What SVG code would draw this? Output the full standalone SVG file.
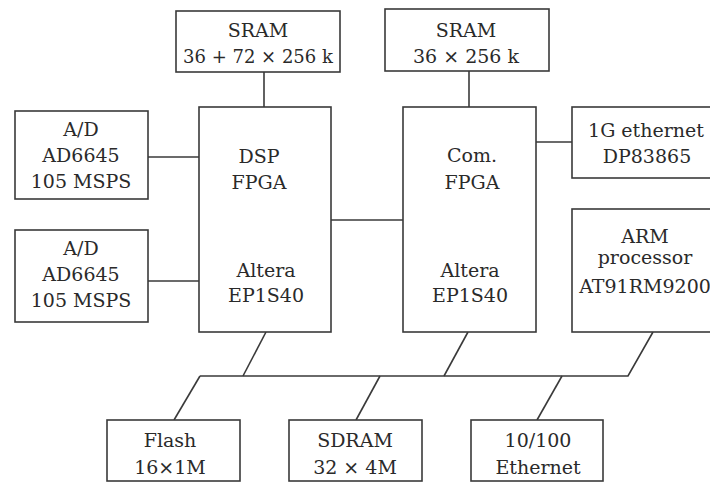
<svg xmlns="http://www.w3.org/2000/svg" width="710" height="482" viewBox="0 0 710 482">
<style>
.box{fill:#fff;stroke:#3a3a3a;stroke-width:1.6}
.ln{fill:none;stroke:#3a3a3a;stroke-width:1.6}
.t{font-size:19px;fill:#2a2a2a;text-anchor:middle}
</style>
<rect width="710" height="482" fill="#fff"/>
<g id="connectors">
<path class="ln" d="M264 72V107"/>
<path class="ln" d="M469 71V107"/>
<path class="ln" d="M148 157H199"/>
<path class="ln" d="M148 281H199"/>
<path class="ln" d="M331 220H403"/>
<path class="ln" d="M536 142H572"/>
<path class="ln" d="M200 376H628L653 332"/>
<path class="ln" d="M266 332L243 376"/>
<path class="ln" d="M468 332L444 376"/>
<path class="ln" d="M200 376L174 420"/>
<path class="ln" d="M380 376L356 420"/>
<path class="ln" d="M562 376L537 420"/>
</g>
<g class="t" font-family="DejaVu Serif, serif">
<g id="sram1"><rect class="box" x="176" y="11" width="164" height="61"/><text x="258" y="37">SRAM</text><text x="258" y="63" font-size="18">36 + 72 × 256 k</text></g>
<g id="sram2"><rect class="box" x="385" y="9" width="164" height="62"/><text x="466" y="37">SRAM</text><text x="466" y="63">36 × 256 k</text></g>
<g id="ad1"><rect class="box" x="15" y="111" width="133" height="88"/><text x="81" y="136">A/D</text><text x="81" y="162">AD6645</text><text x="81" y="188">105 MSPS</text></g>
<g id="ad2"><rect class="box" x="15" y="230" width="133" height="92"/><text x="81" y="255">A/D</text><text x="81" y="281">AD6645</text><text x="81" y="307">105 MSPS</text></g>
<g id="dsp"><rect class="box" x="199" y="107" width="132" height="225"/><text x="259" y="163">DSP</text><text x="259" y="189">FPGA</text><text x="266" y="277">Altera</text><text x="266" y="302">EP1S40</text></g>
<g id="com"><rect class="box" x="403" y="107" width="133" height="225"/><text x="472" y="162">Com.</text><text x="472" y="189">FPGA</text><text x="470" y="277">Altera</text><text x="470" y="302">EP1S40</text></g>
<g id="eth1g"><rect class="box" x="572" y="107" width="150" height="71"/><text x="646" y="137">1G ethernet</text><text x="647" y="163">DP83865</text></g>
<g id="arm"><rect class="box" x="572" y="209" width="150" height="123"/><text x="645" y="243">ARM</text><text x="645" y="264">processor</text><text x="645" y="293">AT91RM9200</text></g>
<g id="flash"><rect class="box" x="107" y="420" width="133" height="61"/><text x="170" y="447">Flash</text><text x="170" y="474">16×1M</text></g>
<g id="sdram"><rect class="box" x="289" y="420" width="133" height="61"/><text x="355" y="447">SDRAM</text><text x="355" y="474">32 × 4M</text></g>
<g id="eth100"><rect class="box" x="471" y="420" width="132" height="61"/><text x="538" y="447">10/100</text><text x="538" y="474">Ethernet</text></g>
</g>
</svg>
